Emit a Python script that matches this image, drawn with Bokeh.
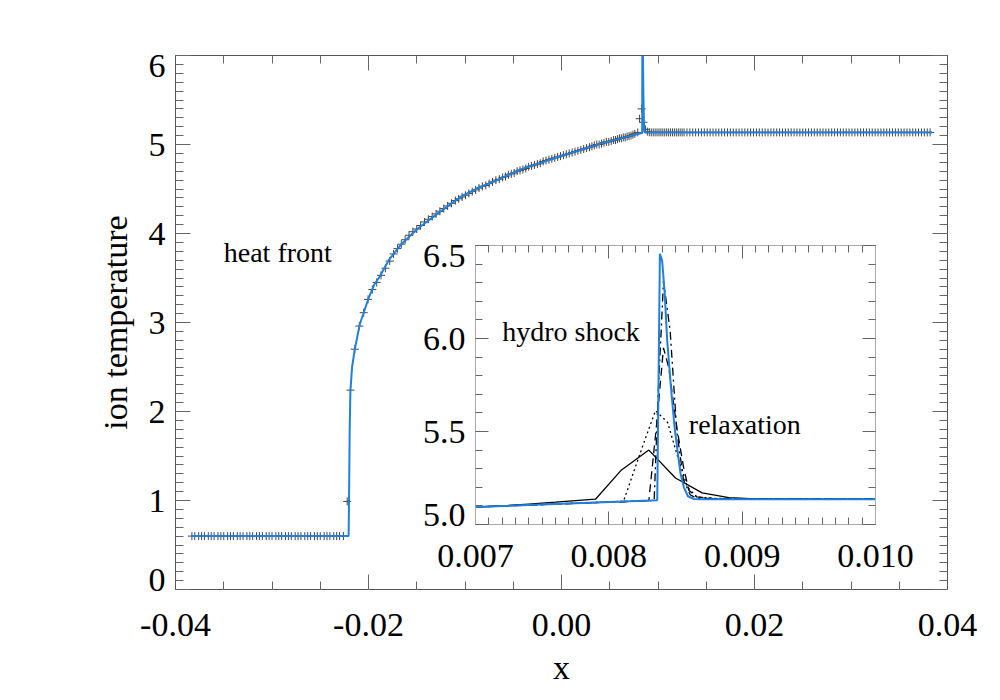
from bokeh.plotting import figure
from bokeh.models import (Range1d, LinearAxis, SingleIntervalTicker,
                          NumeralTickFormatter, CustomJSTickFormatter, Label)
from bokeh.embed import file_html
from bokeh.resources import INLINE

FONT = "Liberation Serif"
BLUE = "#1f80e0"

# ---------------- data ----------------
# high-resolution run (blue line)
HI_X = [-0.0384, -0.02206, -0.02200, -0.02195, -0.02190, -0.02187, -0.02170,
        -0.02142, -0.02090, -0.02050, -0.02000, -0.01938, -0.01876, -0.01790,
        -0.01668, -0.01495, -0.01288, -0.01047, -0.00850, -0.00667, -0.00425,
        0.0, 0.00404, 0.00700, 0.008363, 0.008383, 0.008400, 0.008418,
        0.008438, 0.008468, 0.008493, 0.008518, 0.008538, 0.008563, 0.008593,
        0.008638, 0.00870, 0.0384]
HI_T = [0.60, 0.60, 1.20, 1.80, 2.10, 2.24, 2.50,
        2.70, 2.98, 3.11, 3.27, 3.43, 3.53, 3.70,
        3.87, 4.05, 4.22, 4.41, 4.52, 4.60, 4.72,
        4.87, 5.01, 5.094, 5.130, 6.455, 6.416, 6.255,
        5.987, 5.72, 5.523, 5.38, 5.273, 5.20, 5.152,
        5.137, 5.136, 5.136]

# low-resolution run (crosses in main plot, solid black line in inset)
COLD_LEVEL = 0.60
COLD_X = [-0.0383, -0.0380, -0.0376, -0.0373, -0.0370, -0.0366, -0.0363, -0.0360,
          -0.0356, -0.0353, -0.0350, -0.0346, -0.0343, -0.0340, -0.0336, -0.0333,
          -0.0330, -0.0326, -0.0323, -0.0320, -0.0316, -0.0313, -0.0310, -0.0306,
          -0.0303, -0.0300, -0.0296, -0.0293, -0.0290, -0.0286, -0.0283, -0.0280,
          -0.0276, -0.0273, -0.0270, -0.0266, -0.0263, -0.0260, -0.0256, -0.0253,
          -0.0250, -0.0246, -0.0243, -0.0240, -0.0236, -0.0233, -0.0230, -0.0226]
HOT_X = [-0.02221, -0.02187, -0.02142, -0.02095, -0.02050, -0.02005, -0.01960,
         -0.01915, -0.01870, -0.01825, -0.01780, -0.01740, -0.01700, -0.01660,
         -0.01620, -0.01580, -0.01540, -0.01500, -0.01460, -0.01420, -0.01380,
         -0.01340, -0.01300, -0.01260, -0.01220, -0.01180, -0.01140, -0.01100,
         -0.01065, -0.01030, -0.00995, -0.00960, -0.00925, -0.00890, -0.00855,
         -0.00820, -0.00785, -0.00750, -0.00715, -0.00680, -0.00645, -0.00610,
         -0.00580, -0.00550, -0.00520, -0.00490, -0.00460, -0.00430, -0.00400,
         -0.00370, -0.00340, -0.00310, -0.00280, -0.00250, -0.00220, -0.00190,
         -0.00160, -0.00130, -0.00100, -0.00070, -0.00040, -0.00010, 0.00020,
         0.00050, 0.00080, 0.00110, 0.00140, 0.00170, 0.00200, 0.00230, 0.00260,
         0.00290, 0.00315, 0.00340, 0.00365, 0.00390, 0.00415, 0.00440, 0.00465,
         0.00490, 0.00515, 0.00540, 0.00560, 0.00580, 0.00600, 0.00620, 0.00640,
         0.00660, 0.00680, 0.00700, 0.00720, 0.00740, 0.00760, 0.00790, 0.00809,
         0.00830, 0.00850, 0.00870, 0.00890, 0.00910]
HOT_T = [0.99, 2.24, 2.70, 2.96, 3.11, 3.26, 3.37,
         3.45, 3.53, 3.61, 3.69, 3.77, 3.83, 3.88,
         3.93, 3.98, 4.02, 4.05, 4.09, 4.13, 4.16,
         4.19, 4.22, 4.25, 4.28, 4.31, 4.34, 4.37,
         4.39, 4.41, 4.43, 4.45, 4.47, 4.49, 4.51,
         4.53, 4.54, 4.56, 4.58, 4.60, 4.61, 4.63,
         4.64, 4.66, 4.67, 4.68, 4.70, 4.71, 4.72,
         4.73, 4.75, 4.76, 4.77, 4.78, 4.79, 4.81,
         4.82, 4.83, 4.84, 4.85, 4.86, 4.87, 4.88,
         4.89, 4.90, 4.91, 4.92, 4.93, 4.94, 4.95, 4.96,
         4.97, 4.98, 4.99, 5.00, 5.00, 5.01, 5.02, 5.03,
         5.03, 5.04, 5.05, 5.05, 5.06, 5.07, 5.07, 5.08,
         5.08, 5.09, 5.094, 5.10, 5.11, 5.12, 5.136, 5.29,
         5.40, 5.25, 5.17, 5.145, 5.138]
AHEAD_LEVEL = 5.136
AHEAD_X = [0.0093, 0.0095, 0.0097, 0.0099, 0.0101, 0.0103, 0.0105, 0.0107, 0.0109,
           0.0111, 0.0113, 0.0115, 0.0117, 0.0119, 0.0121, 0.0123, 0.0125, 0.0127,
           0.0130, 0.0133, 0.0136, 0.0139, 0.0142, 0.0145, 0.0148, 0.0151, 0.0154,
           0.0157, 0.0160, 0.0163, 0.0166, 0.0169, 0.0172, 0.0175, 0.0178, 0.0181,
           0.0184, 0.0187, 0.0190, 0.0193, 0.0196, 0.0199, 0.0202, 0.0205, 0.0208,
           0.0211, 0.0214, 0.0217, 0.0220, 0.0223, 0.0226, 0.0229, 0.0232, 0.0235,
           0.0238, 0.0241, 0.0244, 0.0247, 0.0250, 0.0253, 0.0256, 0.0259, 0.0262,
           0.0265, 0.0268, 0.0271, 0.0274, 0.0277, 0.0280, 0.0283, 0.0286, 0.0289,
           0.0292, 0.0295, 0.0298, 0.0301, 0.0304, 0.0307, 0.0310, 0.0313, 0.0316,
           0.0319, 0.0322, 0.0325, 0.0328, 0.0331, 0.0334, 0.0337, 0.0340, 0.0343,
           0.0346, 0.0349, 0.0352, 0.0355, 0.0358, 0.0361, 0.0364, 0.0367, 0.0370,
           0.0373, 0.0376, 0.0379, 0.0382]

LO_X = COLD_X + HOT_X + AHEAD_X
LO_T = [COLD_LEVEL] * len(COLD_X) + HOT_T + [AHEAD_LEVEL] * len(AHEAD_X)

# intermediate resolutions (inset only)
DOT_X = [0.0070, 0.00811, 0.00826, 0.00835, 0.00844, 0.00851, 0.00859, 0.00866, 0.00880, 0.0100]
DOT_T = [5.094, 5.125, 5.434, 5.612, 5.55, 5.38, 5.20, 5.148, 5.140, 5.136]
DASH_X = [0.0070, 0.00830, 0.00836, 0.00841, 0.00845, 0.00851, 0.00856, 0.00860, 0.00866, 0.00880, 0.0100]
DASH_T = [5.094, 5.128, 5.55, 5.95, 5.84, 5.52, 5.31, 5.184, 5.148, 5.138, 5.136]
DDOT_X = [0.0070, 0.00834, 0.00837, 0.00841, 0.00846, 0.00851, 0.00856, 0.00861, 0.00866, 0.0100]
DDOT_T = [5.094, 5.129, 5.70, 6.31, 6.04, 5.50, 5.24, 5.16, 5.14, 5.136]

MAIN_XR = (-0.04, 0.04)
MAIN_YR = (0.0, 6.0)
INSET_XR = (0.007, 0.010)
INSET_YR = (5.0, 6.5)
MAIN_X_TICK_FORMAT = "0.00"
MAIN_Y_TICK_FORMAT = "0"
INSET_X_TICK_FORMAT = "0.000"
INSET_Y_TICK_FORMAT = "0.0"
MAIN_Y_EDGE = {0: "0", 6: "6"}
INSET_Y_EDGE = {5.0: "5.0", 6.5: "6.5"}

TICK_SIZE = "34px"
W, H = 992, 692
MAIN_B = dict(L=175, R=45, T=55, B=103)
INSET_B = dict(L=475, R=117, T=245, B=168)


def style_axis(ax, line_color, tick_color, major_len, minor_len, labels):
    ax.axis_line_color = line_color
    ax.axis_line_width = 1
    ax.major_tick_in = major_len
    ax.major_tick_out = 0
    ax.minor_tick_in = minor_len
    ax.minor_tick_out = 0
    ax.major_tick_line_color = tick_color
    ax.minor_tick_line_color = tick_color
    ax.major_label_text_font = FONT
    ax.major_label_text_color = "black"
    ax.major_label_text_font_size = TICK_SIZE
    if not labels:
        ax.formatter = CustomJSTickFormatter(code="return ''")
    ax.axis_label_text_font = FONT
    ax.axis_label_text_font_style = "normal"
    ax.axis_label_text_font_size = "34px"
    ax.axis_label_text_color = "black"


def overlay(xr, yr, b):
    """Transparent full-canvas figure sharing the data mapping of a framed figure,
    used to place edge tick labels that sit inside the tick span."""
    fw = W - b["L"] - b["R"]
    fh = H - b["T"] - b["B"]
    dx = (xr[1] - xr[0]) / fw
    dy = (yr[1] - yr[0]) / fh
    f = figure(width=W, height=H,
               x_range=Range1d(xr[0] - b["L"] * dx, xr[1] + b["R"] * dx),
               y_range=Range1d(yr[0] - b["B"] * dy, yr[1] + b["T"] * dy),
               x_axis_type=None, y_axis_type=None, min_border=0, title=None,
               output_backend="svg", toolbar_location=None,
               background_fill_alpha=0, border_fill_alpha=0)
    f.outline_line_color = None
    f.margin = (-H, 0, 0, 0)
    return f


def edge_labels(fig, edges, x_at, lo_val):
    for val, txt in edges.items():
        shift = 10 if val == lo_val else -10
        fig.add_layout(Label(x=x_at, y=val, text=txt, x_offset=-10, y_offset=shift,
                             text_align="right", text_baseline="middle",
                             text_font=FONT, text_font_size=TICK_SIZE, text_color="black"))


# ---------------- main figure ----------------
p = figure(width=W, height=H, x_range=Range1d(*MAIN_XR), y_range=Range1d(*MAIN_YR),
           output_backend="svg", toolbar_location=None,
           min_border_left=MAIN_B["L"], min_border_right=MAIN_B["R"],
           min_border_top=MAIN_B["T"], min_border_bottom=MAIN_B["B"])
p.grid.visible = False
p.outline_line_color = None
p.background_fill_color = "white"
p.border_fill_color = "white"

xt = SingleIntervalTicker(interval=0.02, num_minor_ticks=4)
yt = SingleIntervalTicker(interval=1, num_minor_ticks=10)
bx = p.xaxis[0]
ly = p.yaxis[0]
bx.ticker = xt
ly.ticker = yt
bx.formatter = NumeralTickFormatter(format=MAIN_X_TICK_FORMAT)
ly.formatter = NumeralTickFormatter(format=MAIN_Y_TICK_FORMAT)
ly.major_label_overrides = {k: "" for k in MAIN_Y_EDGE}
tx = LinearAxis(ticker=xt)
ry = LinearAxis(ticker=yt)
p.add_layout(tx, "above")
p.add_layout(ry, "right")
for ax, lab in ((bx, True), (ly, True), (tx, False), (ry, False)):
    style_axis(ax, "#555555", "#666666", 15, 8, lab)
bx.axis_label = "x"
ly.axis_label = "ion temperature"
bx.major_label_standoff = 24
bx.axis_label_standoff = 10
ly.major_label_standoff = 10
ly.axis_label_standoff = 12

p.scatter(LO_X, LO_T, marker="cross", size=8, line_color="#444444", line_width=1)
p.line(HI_X, HI_T, line_color=BLUE, line_width=2)

p.add_layout(Label(x=-0.0350, y=3.79, text="heat front", text_font=FONT,
                   text_font_size="28px", text_baseline="middle", text_color="black"))

# ---------------- inset (separate root overlaid on the main one) ----------------
ins = figure(width=W, height=H, x_range=Range1d(*INSET_XR), y_range=Range1d(*INSET_YR),
             output_backend="svg", toolbar_location=None,
             min_border_left=INSET_B["L"], min_border_right=INSET_B["R"],
             min_border_top=INSET_B["T"], min_border_bottom=INSET_B["B"],
             background_fill_alpha=0, border_fill_alpha=0)
ins.grid.visible = False
ins.outline_line_color = None
ins.margin = (-H, 0, 0, 0)

ixt = SingleIntervalTicker(interval=0.001, num_minor_ticks=10)
iyt = SingleIntervalTicker(interval=0.5, num_minor_ticks=5)
ibx = ins.xaxis[0]
ily = ins.yaxis[0]
ibx.ticker = ixt
ily.ticker = iyt
ibx.formatter = NumeralTickFormatter(format=INSET_X_TICK_FORMAT)
ily.formatter = NumeralTickFormatter(format=INSET_Y_TICK_FORMAT)
ily.major_label_overrides = {k: "" for k in INSET_Y_EDGE}
itx = LinearAxis(ticker=ixt)
iry = LinearAxis(ticker=iyt)
ins.add_layout(itx, "above")
ins.add_layout(iry, "right")
for ax, lab in ((ibx, True), (ily, True), (itx, False), (iry, False)):
    style_axis(ax, "#aaaaaa", "#666666", 13, 7, lab)
ibx.major_label_standoff = 20
ily.major_label_standoff = 10

ins.line(LO_X, LO_T, line_color="black", line_width=1.3)
ins.line(DOT_X, DOT_T, line_color="black", line_width=1.3, line_dash="2 3")
ins.line(DASH_X, DASH_T, line_color="black", line_width=1.3, line_dash="8 5")
ins.line(DDOT_X, DDOT_T, line_color="black", line_width=1.3, line_dash="8 4 2 4")
ins.line(HI_X, HI_T, line_color=BLUE, line_width=2)

ins.add_layout(Label(x=0.0072, y=6.04, text="hydro shock", text_font=FONT,
                     text_font_size="28px", text_baseline="middle", text_color="black"))
ins.add_layout(Label(x=0.0086, y=5.54, text="relaxation", text_font=FONT,
                     text_font_size="28px", text_baseline="middle", text_color="black"))

# ---------------- edge tick labels ----------------
ov_main = overlay(MAIN_XR, MAIN_YR, MAIN_B)
edge_labels(ov_main, MAIN_Y_EDGE, MAIN_XR[0], MAIN_YR[0])
ov_ins = overlay(INSET_XR, INSET_YR, INSET_B)
edge_labels(ov_ins, INSET_Y_EDGE, INSET_XR[0], INSET_YR[0])

open("out.html", "w").write(file_html([p, ins, ov_main, ov_ins], INLINE))
